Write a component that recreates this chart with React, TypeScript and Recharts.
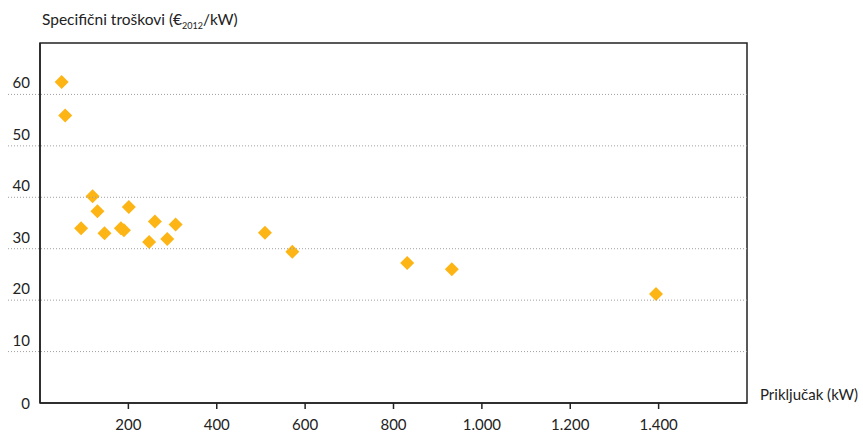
import { ScatterChart, Scatter, XAxis, YAxis, ReferenceArea } from 'recharts'

// Priključak (kW) vs. specifični troškovi (€2012/kW)
const capacityKw = [49, 57, 93, 119, 130, 146, 183, 190, 201, 247, 260, 288, 307, 509, 571, 831, 932, 1394]
const specificCost = [62.4, 55.9, 34.0, 40.2, 37.3, 33.0, 34.0, 33.6, 38.1, 31.3, 35.3, 31.9, 34.7, 33.1, 29.4, 27.2, 26.0, 21.2]
const xTicks = [200, 400, 600, 800, 1000, 1200, 1400]
const yTicks = [0, 10, 20, 30, 40, 50, 60]

const W = 863
const H = 432
const LEFT = 40
const RIGHT = 747
const FONT = 'Lato, "Open Sans", sans-serif'
const DOT = '#FDB515'

const data = capacityKw.map((x, i) => ({ x, y: specificCost[i] }))

const fmt = (v: number) => v.toLocaleString('de-DE')

const YTick = (props: any) => {
  const { y, payload } = props
  const v = payload.value
  return (
    <g>
      {v !== 0 && (
        <line x1={8} x2={RIGHT} y1={y} y2={y} stroke="#a0a0a0" strokeDasharray="1 2" />
      )}
      <text x={30} y={v === 0 ? y + 6 : y - 6} textAnchor="end" fontSize={15} fill="#222" fontFamily={FONT}>
        {v}
      </text>
    </g>
  )
}

const XTick = (props: any) => {
  const { x, y, payload } = props
  return (
    <text x={x} y={y + 19} textAnchor="middle" fontSize={15} fill="#222" fontFamily={FONT}>
      {fmt(payload.value)}
    </text>
  )
}

const Diamond = (props: any) => {
  const { cx, cy } = props
  const r = 7
  return <polygon points={`${cx},${cy - r} ${cx + r},${cy} ${cx},${cy + r} ${cx - r},${cy}`} fill={DOT} />
}

export default function App() {
  return (
    <div style={{ position: 'absolute', left: 0, top: 0, width: W, height: H, background: '#fff' }}>
      <ScatterChart width={W} height={H} margin={{ top: 43, right: W - RIGHT, bottom: 0, left: 8 }}>
        <XAxis
          type="number"
          dataKey="x"
          domain={[0, 1600]}
          ticks={xTicks}
          interval={0}
          tick={<XTick />}
          tickSize={6}
          height={29}
          axisLine={{ stroke: '#222', strokeWidth: 1.5 }}
          tickLine={{ stroke: '#222', strokeWidth: 1.5 }}
        />
        <YAxis
          type="number"
          dataKey="y"
          domain={[0, 70]}
          ticks={yTicks}
          interval={0}
          width={LEFT - 8}
          tick={<YTick />}
          tickLine={false}
          axisLine={{ stroke: '#222', strokeWidth: 1.5 }}
        />
        <ReferenceArea x1={0} x2={1600} y1={0} y2={70} fill="none" stroke="#222" strokeWidth={1.5} fillOpacity={0} />
        <Scatter data={data} shape={<Diamond />} isAnimationActive={false} />
      </ScatterChart>
      <div
        style={{
          position: 'absolute', left: 42, top: 10, fontSize: 15.5, color: '#222', fontFamily: FONT, whiteSpace: 'nowrap',
        }}
      >
        Specifični troškovi (€<sub style={{ fontSize: 9, verticalAlign: 'sub' }}>2012</sub>/kW)
      </div>
      <div
        style={{
          position: 'absolute', left: 760, top: 385, fontSize: 15, color: '#222', fontFamily: FONT, whiteSpace: 'nowrap',
        }}
      >
        Priključak (kW)
      </div>
    </div>
  )
}
